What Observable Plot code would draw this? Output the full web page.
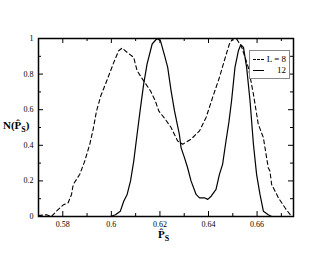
<!DOCTYPE html>
<html><head><meta charset="utf-8">
<script src="https://cdn.jsdelivr.net/npm/d3@7"></script>
<script src="https://cdn.jsdelivr.net/npm/@observablehq/plot@0.6"></script>
<style>
body{margin:0;background:#fff;}
#wrap{position:relative;width:330px;height:255px;font-family:"Liberation Serif","Times New Roman",serif;}
.lab{position:absolute;font-weight:bold;font-size:11px;color:#000;white-space:nowrap;}
.lab sub{font-size:8px;}
#legend{position:absolute;left:249px;top:50px;width:39px;height:27px;border:1px solid #888;background:#fff;font-size:9px;}
.row{position:absolute;left:3px;right:3px;height:10px;}
.row .ln{position:absolute;left:0;width:11px;top:5px;border-top:1.2px solid #000;}
.row .tx{position:absolute;right:0;top:0;line-height:10px;}
</style></head>
<body><div id="wrap"></div>
<script>
// L = 8 (dashed)
const x8 = [0.570,0.5733,0.5753,0.5774,0.5801,0.5822,0.5836,0.5843,0.587,0.589,0.5911,0.5925,0.5939,0.5957,0.5976,0.601,0.603,0.6044,0.6065,0.6092,0.6106,0.6133,0.6161,0.6181,0.6195,0.622,0.6246,0.6273,0.6294,0.6328,0.6363,0.639,0.6417,0.6445,0.6465,0.6486,0.650,0.6516,0.6537,0.6564,0.6585,0.6605,0.6626,0.6646,0.6653,0.666,0.6688,0.6715,0.6742];
const y8 = [0.005,0.01,0.0,0.03,0.064,0.077,0.124,0.18,0.237,0.31,0.405,0.49,0.593,0.68,0.744,0.866,0.931,0.946,0.922,0.894,0.819,0.762,0.706,0.65,0.593,0.55,0.5,0.424,0.406,0.434,0.481,0.556,0.669,0.781,0.875,0.969,1.0,0.997,0.95,0.838,0.687,0.518,0.443,0.274,0.255,0.18,0.105,0.049,0.0];
// L = 12 (solid)
const x12 = [0.5955,0.5996,0.6017,0.6037,0.6051,0.6065,0.6079,0.6092,0.6106,0.612,0.6133,0.6147,0.6168,0.6188,0.6202,0.622,0.6232,0.6246,0.626,0.628,0.6287,0.6301,0.6314,0.6328,0.6349,0.6363,0.6383,0.6397,0.6411,0.6431,0.6445,0.6458,0.6472,0.6484,0.6495,0.6509,0.6523,0.6533,0.6544,0.6557,0.6571,0.6585,0.6598,0.6612,0.6626,0.6646,0.666];
const y12 = [0,0,0.01,0.03,0.086,0.124,0.2,0.31,0.462,0.612,0.744,0.856,0.969,1.0,0.988,0.9,0.838,0.706,0.593,0.462,0.387,0.331,0.274,0.2,0.124,0.105,0.105,0.096,0.114,0.152,0.237,0.293,0.424,0.53,0.65,0.838,0.931,0.965,0.95,0.838,0.65,0.406,0.237,0.124,0.03,0.01,0];
const xMajor = [0.58,0.60,0.62,0.64,0.66];
const xMajorLabels = ["0.58","0.6","0.62","0.64","0.66"];
const xMinor = [0.57,0.59,0.61,0.63,0.65,0.67];
const yMajor = [0,0.2,0.4,0.6,0.8,1];
const yMajorLabels = ["0","0.2","0.4","0.6","0.8","1"];
const yMinor = [0.1,0.3,0.5,0.7,0.9];
const seriesNames = ["L = 8","12"];

const d8 = x8.map((x,i)=>({x,y:y8[i]}));
const d12 = x12.map((x,i)=>({x,y:y12[i]}));

const W=330,H=255,mt=38,mr=37,mb=39,ml=38;
const ph = H-mt-mb, pw = W-ml-mr;
const maj=5, mnr=3;
const chart = Plot.plot({
  width:W,height:H,marginTop:mt,marginRight:mr,marginBottom:mb,marginLeft:ml,
  style:{fontFamily:'"Liberation Serif","Times New Roman",serif',fontSize:"8px",color:"#000",background:"#fff"},
  x:{domain:[0.57,0.675]},
  y:{domain:[0,1]},
  marks:[
    Plot.axisX(xMajor,{tickSize:0,tickPadding:5,tickFormat:(d,i)=>xMajorLabels[i],label:null,fontSize:8}),
    Plot.axisY(yMajor,{tickSize:0,tickPadding:5,tickFormat:(d,i)=>yMajorLabels[i],label:null,fontSize:8}),
    Plot.tickX(xMajor,{x:d=>d,insetTop:ph-maj,stroke:"#000"}),
    Plot.tickX(xMajor,{x:d=>d,insetBottom:ph-maj,stroke:"#000"}),
    Plot.tickX(xMinor,{x:d=>d,insetTop:ph-mnr,stroke:"#000"}),
    Plot.tickX(xMinor,{x:d=>d,insetBottom:ph-mnr,stroke:"#000"}),
    Plot.tickY(yMajor,{y:d=>d,insetRight:pw-maj,stroke:"#000"}),
    Plot.tickY(yMajor,{y:d=>d,insetLeft:pw-maj,stroke:"#000"}),
    Plot.tickY(yMinor,{y:d=>d,insetRight:pw-mnr,stroke:"#000"}),
    Plot.tickY(yMinor,{y:d=>d,insetLeft:pw-mnr,stroke:"#000"}),
    Plot.line(d8,{x:"x",y:"y",stroke:"#000",strokeWidth:1.1,strokeDasharray:"4,3"}),
    Plot.line(d12,{x:"x",y:"y",stroke:"#000",strokeWidth:1.2}),
    Plot.frame({stroke:"#000",strokeWidth:1.5})
  ]
});
const wrap=document.getElementById("wrap");
wrap.appendChild(chart);
const xl=document.createElement("div");xl.className="lab";xl.style.left="158px";xl.style.top="228px";
xl.innerHTML="P&#770;<sub>S</sub>";wrap.appendChild(xl);
const yl=document.createElement("div");yl.className="lab";yl.style.left="3px";yl.style.top="119px";
yl.innerHTML="N(P&#770;<sub>S</sub>)";wrap.appendChild(yl);
const lg=document.createElement("div");lg.id="legend";
lg.innerHTML=`<div class="row" style="top:3px"><div class="ln" style="border-top-style:dashed"></div><div class="tx">${seriesNames[0]}</div></div>
<div class="row" style="top:14px"><div class="ln"></div><div class="tx">${seriesNames[1]}</div></div>`;
wrap.appendChild(lg);
</script></body></html>
